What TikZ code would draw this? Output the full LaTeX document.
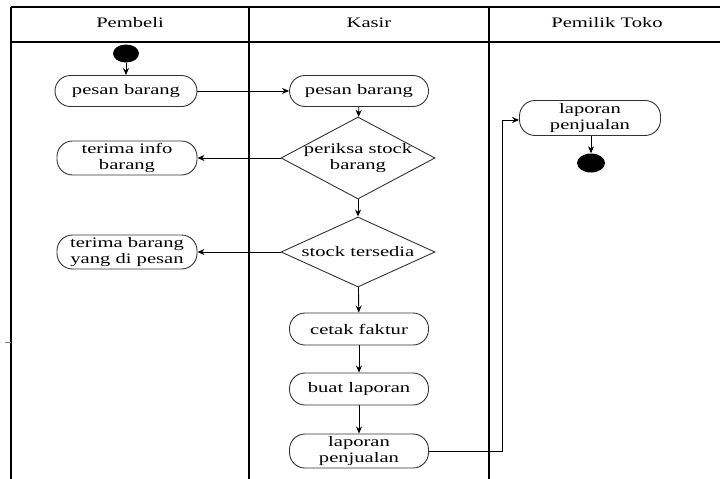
\documentclass[tikz,border=0pt]{standalone}
\usepackage{fontspec}
\setmainfont{Liberation Serif}[FakeStretch=1.42]
\usetikzlibrary{shapes.geometric,arrows.meta}
\begin{document}
\begin{tikzpicture}[x=1pt,y=-1pt,
  txt/.style={font=\fontsize{14.5}{15.5}\selectfont, align=center},
  act/.style={txt, draw=black!80, line width=0.9pt, rectangle, rounded corners=15.5pt,
              minimum width=139pt, minimum height=32pt, inner sep=0pt},
  dec/.style={diamond, draw=black!80, line width=0.9pt, minimum width=154pt, inner sep=0pt},
  dot/.style={ellipse, fill=black, draw=none, inner sep=0pt},
  frame/.style={line width=1.2pt, black},
  arr/.style={line width=0.9pt, black, -{Stealth[length=7pt,width=6pt]}}]
\useasboundingbox (0,0) rectangle (720,479);
% swimlane frame
\draw[frame] (11,7) -- (720,7);
\draw[frame] (11,42) -- (720,42);
\draw[frame] (11,7) -- (11,479);
\draw[frame] (249,7) -- (249,479);
\draw[frame] (489,7) -- (489,479);
\draw[black!50, line width=0.8pt] (5,342) -- (11,342);
% headers
\node[txt] (h1) at (130,23) {Pembeli};
\node[txt] (h2) at (369,23) {Kasir};
\node[txt] (h3) at (607,23) {Pemilik Toko};
% nodes
\node[dot, minimum width=26pt, minimum height=18pt] (start) at (126,53.5) {};
\node[act, minimum width=142pt, minimum height=31pt] (p1) at (126,91) {pesan barang};
\node[act, minimum height=31pt] (k1) at (359,91) {pesan barang};
\node[dec, minimum height=82pt, label={[txt]center:periksa stock\\barang}] (d1) at (358,158) {};
\node[act, minimum width=140pt, minimum height=34pt] (p2) at (127,158) {terima info\\barang};
\node[dec, minimum height=70pt, label={[txt]center:stock tersedia}] (d2) at (358,252) {};
\node[act, minimum width=140pt, minimum height=34pt] (p3) at (127,252) {terima barang\\yang di pesan};
\node[act] (k2) at (359,329) {cetak faktur};
\node[act] (k3) at (359,389) {buat laporan};
\node[act, minimum height=34pt] (k4) at (359,451) {laporan\\penjualan};
\node[act, minimum width=141pt, minimum height=35pt] (o1) at (590,118) {laporan\\penjualan};
\node[dot, minimum width=28pt, minimum height=19pt] (end) at (591,163) {};
\coordinate (jx) at (502,0);
% connectors
\draw[arr] (start) -- (p1);
\draw[arr] (p1) -- (k1);
\draw[arr] (k1) -- (d1);
\draw[arr] (d1.west) -- (p2.east);
\draw[arr] (d1) -- (d2);
\draw[arr] (d2.west) -- (p3.east);
\draw[arr] (d2) -- (k2);
\draw[arr] (k2) -- (k3);
\draw[arr] (k3) -- (k4);
\draw[arr] (k4.east) -- (k4.east -| jx) |- ([yshift=-2pt]o1.west);
\draw[arr] (o1.south -| end) -- (end);
\end{tikzpicture}
\end{document}
